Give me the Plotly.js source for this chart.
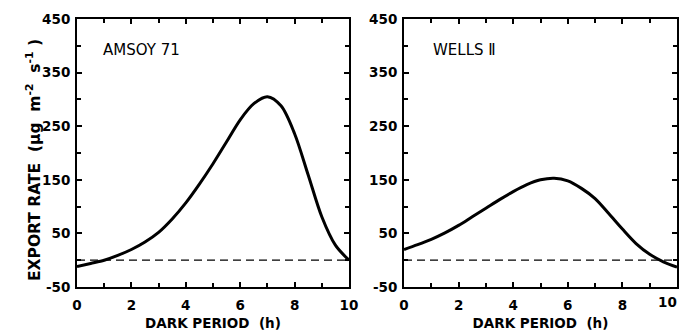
<!DOCTYPE html>
<html>
<head>
<meta charset="utf-8">
<script src="https://cdn.plot.ly/plotly-3.0.1.min.js"></script>
<style>html,body{margin:0;padding:0;background:#fff;overflow:hidden;}#chart{width:687px;height:331px;}</style>
</head>
<body>
<div id="chart"></div>
<script>
// Dark period (h)
const darkHours = [0,0.5,1,1.5,2,2.5,3,3.5,4,4.5,5,5.5,6,6.5,7,7.5,8,8.5,9,9.5,10];
// Export rate, Amsoy 71
const amsoy71 = [-12,-6,0,9,20,34,52,77,107,142,180,221,262,292,305,288,236,159,81,28,0];
// Export rate, Wells II
const wells2 = [20,29,39,51,65,81,97,113,128,141,150,153,148,134,115,87,58,31,11,-3,-13];
// Zero reference line
const zeroX = [0,10];
const zeroY = [0,0];
// Panel labels
const panelLabels = ["AMSOY 71", "WELLS \u2161"];
// Tick labels
const yTickVals = [-50,50,150,250,350,450];
const yTickText = ["-50","50","150","250","350","450"];
const xTickVals = [0,2,4,6,8,10];
const xTickText = ["0","2","4","6","8","10"];

const tickFont = {family:'DejaVu Sans', size:13.5, color:'#000', weight:'bold'};
const NB = '\u00a0';
const yTitle = 'EXPORT' + NB + 'RATE' + NB + NB + '(\u03bcg' + NB + NB + 'm<sup>-2</sup>' + NB + NB + 's<sup>-1</sup>' + NB + ')';

const traces = [
  {x:darkHours, y:amsoy71, xaxis:'x', yaxis:'y', mode:'lines', line:{color:'#000', width:3, shape:'spline', smoothing:0.9}, hoverinfo:'skip'},
  {x:zeroX, y:zeroY, xaxis:'x', yaxis:'y', mode:'lines', line:{color:'#000', width:1.3, dash:'8px,5px'}, hoverinfo:'skip'},
  {x:darkHours, y:wells2, xaxis:'x2', yaxis:'y2', mode:'lines', line:{color:'#000', width:3, shape:'spline', smoothing:0.9}, hoverinfo:'skip'},
  {x:zeroX, y:zeroY, xaxis:'x2', yaxis:'y2', mode:'lines', line:{color:'#000', width:1.3, dash:'8px,5px'}, hoverinfo:'skip'}
];

function xax(domain, anchor, lastLabel){
  const tt = xTickText.slice();
  if (!lastLabel) tt[tt.length-1] = '';
  return {
    domain:domain, anchor:anchor, range:[0,10],
    tickvals:xTickVals, ticktext:tt,
    ticks:'inside', ticklen:5, tickwidth:2, tickcolor:'#000',
    minor:{ticks:'inside', dtick:1, tick0:0, ticklen:4, tickwidth:2, tickcolor:'#000'},
    showline:true, linecolor:'#000', linewidth:2, mirror:'ticks',
    showgrid:false, zeroline:false,
    tickfont:tickFont, ticklabelstandoff:5, ticklabeloverflow:'allow',
    title:{text:'DARK' + NB + 'PERIOD' + NB + NB + '(h)', font:tickFont, standoff:7}
  };
}
function yax(domain, anchor){
  return {
    domain:domain, anchor:anchor, range:[-50,450],
    tickvals:yTickVals, ticktext:yTickText,
    ticks:'inside', ticklen:5, tickwidth:2, tickcolor:'#000',
    minor:{ticks:'inside', dtick:50, tick0:0, ticklen:4, tickwidth:2, tickcolor:'#000'},
    showline:true, linecolor:'#000', linewidth:2, mirror:'ticks',
    showgrid:false, zeroline:false,
    tickfont:tickFont, ticklabelstandoff:2, ticklabeloverflow:'allow'
  };
}

const yDom = [1-287/331, 1-19/331];
const layout = {
  width:687, height:331,
  margin:{l:0, r:0, t:0, b:0},
  paper_bgcolor:'#fff', plot_bgcolor:'#fff',
  showlegend:false,
  xaxis: xax([77/687, 349/687], 'y', true),
  yaxis: yax(yDom, 'x'),
  xaxis2: xax([404/687, 677/687], 'y2', false),
  yaxis2: yax(yDom, 'x2'),
  annotations:[
    {xref:'x domain', yref:'y domain', x:0.09, y:0.885, xanchor:'left', yanchor:'middle', text:panelLabels[0], showarrow:false, font:{family:'DejaVu Sans', size:15, color:'#000'}},
    {xref:'x2 domain', yref:'y2 domain', x:0.1, y:0.885, xanchor:'left', yanchor:'middle', text:panelLabels[1], showarrow:false, font:{family:'DejaVu Sans', size:15, color:'#000'}},
    {xref:'paper', yref:'paper', x:33/687, y:1-160/331, xanchor:'center', yanchor:'middle', textangle:-90, text:yTitle, showarrow:false, font:{family:'DejaVu Sans', size:15.5, color:'#000', weight:'bold'}},
    {xref:'paper', yref:'paper', x:667/687, y:1-302/331, xanchor:'center', yanchor:'middle', text:xTickText[xTickText.length-1], showarrow:false, font:{family:'DejaVu Sans', size:13.5, color:'#000', weight:'bold'}}
  ]
};

Plotly.newPlot('chart', traces, layout, {staticPlot:true, displayModeBar:false});
</script>
</body>
</html>
